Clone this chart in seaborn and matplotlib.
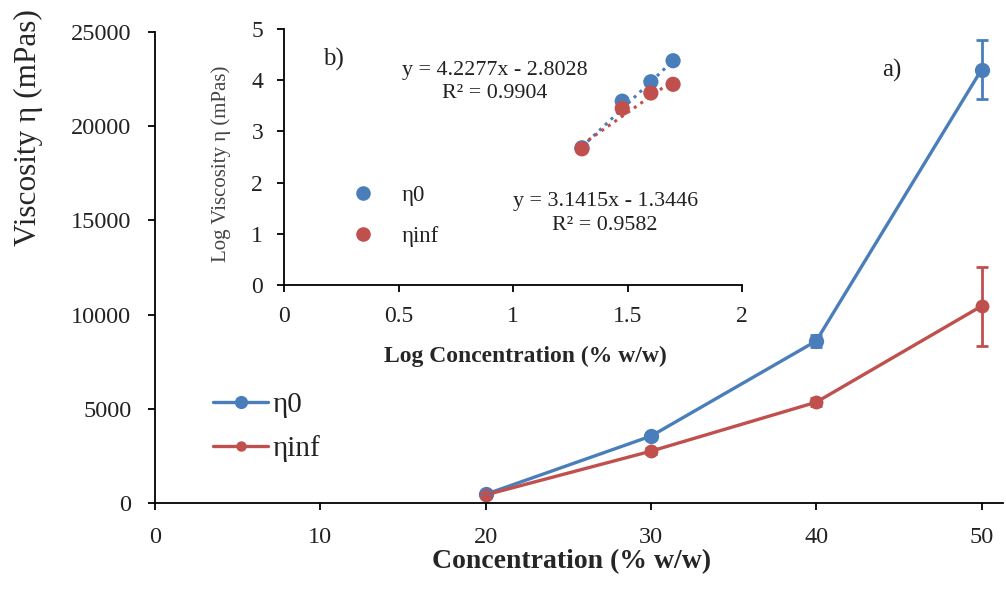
import matplotlib
matplotlib.use("Agg")
import matplotlib.pyplot as plt
import seaborn as sns
import pandas as pd
import numpy as np
from matplotlib.lines import Line2D

# Concentration series (% w/w) and viscosities (mPas)
concentration = [20, 30, 40, 50]
eta0 = [460, 3550, 8600, 23000]
eta0_err = [100, 150, 300, 1550]
etainf = [430, 2750, 5350, 10450]
etainf_err = [100, 150, 200, 2100]

# Log-log view
log_conc = [1.301, 1.477, 1.602, 1.699]
log_eta0 = [2.68, 3.59, 3.97, 4.38]
log_etainf = [2.66, 3.45, 3.75, 3.92]
fit_eta0 = (4.2277, -2.8028, 0.9904)
fit_etainf = (3.1415, -1.3446, 0.9582)

BLUE = "#4a7ebb"
RED = "#c0504d"
W, H = 1006, 590

sns.set_theme(style="white")
plt.rcParams["font.family"] = ["Liberation Serif", "DejaVu Serif"]
plt.rcParams["axes.edgecolor"] = "black"
plt.rcParams["axes.linewidth"] = 1.3
plt.rcParams["text.color"] = "#222222"

fig = plt.figure(figsize=(W / 100, H / 100), dpi=100)


def px_text(x, y, s, size, **kw):
    """Place text at pixel coordinates measured from the top-left corner."""
    fig.text(x / W, 1 - y / H, s, fontsize=size, ha="center", va="center", **kw)


# Main axes: viscosity against concentration
AX_L, AX_T, AX_B, AX_R = 155, 32, 503, 1003
ax = fig.add_axes([AX_L / W, 1 - AX_B / H, (AX_R - AX_L) / W, (AX_B - AX_T) / H])
ax_w, ax_h = AX_R - AX_L, AX_B - AX_T

for vals, col, ms in [(eta0, BLUE, 11), (etainf, RED, 10)]:
    sns.lineplot(x=concentration, y=vals, color=col, marker="o", markersize=ms,
                 markeredgewidth=0, linewidth=2.4, ax=ax)
ax.errorbar(concentration, eta0, yerr=eta0_err, fmt="none", ecolor=BLUE,
            elinewidth=2, capsize=4.5, capthick=2)
ax.errorbar(concentration, etainf, yerr=etainf_err, fmt="none", ecolor=RED,
            elinewidth=2, capsize=4.5, capthick=2)

ax.set_xlim(0, 51.3)
ax.set_ylim(0, 25000)
ax.set_xticks([0, 10, 20, 30, 40, 50])
ax.set_yticks([0, 5000, 10000, 15000, 20000, 25000])
for s in ["top", "right"]:
    ax.spines[s].set_visible(False)
ax.tick_params(axis="both", which="major", direction="out", length=5, width=1.3,
               labelsize=17.5, colors="black", labelcolor="#222222",
               bottom=True, left=True)
ax.tick_params(axis="x", pad=12)
ax.tick_params(axis="y", pad=12)
ax.set_xlabel("Concentration (% w/w)", fontsize=20, fontweight="bold")
ax.xaxis.set_label_coords((572 - AX_L) / ax_w, -(549 - AX_B) / ax_h)
ax.set_ylabel("Viscosity η (mPas)", fontsize=22.5)
ax.yaxis.set_label_coords(-(AX_L - 43) / ax_w, (AX_B - 128) / ax_h)
px_text(892, 70, "a)", 18)

# Main legend
handles = [
    Line2D([], [], color=BLUE, lw=2.4, marker="o", markersize=9.5, markeredgewidth=0),
    Line2D([], [], color=RED, lw=2.4, marker="o", markersize=7.5, markeredgewidth=0),
]
ax.legend(handles, ["η0", "ηinf"], loc="center left",
          bbox_to_anchor=((213 - AX_L) / ax_w, (AX_B - 427) / ax_h),
          borderaxespad=0, borderpad=0, frameon=False, fontsize=21,
          handlelength=1.9, handletextpad=0.15, labelspacing=0.6)

# Inset: log-log plot with linear trend lines
IN_L, IN_T, IN_B, IN_R = 284, 29, 285, 742
ins = fig.add_axes([IN_L / W, 1 - IN_B / H, (IN_R - IN_L) / W, (IN_B - IN_T) / H])
in_w, in_h = IN_R - IN_L, IN_B - IN_T
ldf = pd.DataFrame({
    "x": log_conc * 2,
    "y": log_eta0 + log_etainf,
    "series": ["η0"] * 4 + ["ηinf"] * 4,
})
xs = np.array([log_conc[0], log_conc[-1]])
for (m, b, _), col in [(fit_eta0, BLUE), (fit_etainf, RED)]:
    ins.plot(xs, m * xs + b, color=col, lw=2.2, ls=(0, (1, 1.6)), zorder=1)
sns.scatterplot(data=ldf, x="x", y="y", hue="series", palette=[BLUE, RED],
                s=120, linewidth=0, ax=ins, legend=False, zorder=3)
ins.set_xlim(0, 2)
ins.set_ylim(0, 5)
ins.set_xticks([0, 0.5, 1, 1.5, 2])
ins.set_xticklabels(["0", "0.5", "1", "1.5", "2"])
ins.set_yticks([0, 1, 2, 3, 4, 5])
for s in ["top", "right"]:
    ins.spines[s].set_visible(False)
ins.tick_params(axis="both", direction="out", length=5, width=1.3,
                labelsize=17, colors="black", labelcolor="#222222",
                bottom=True, left=True)
ins.tick_params(axis="x", pad=10)
ins.tick_params(axis="y", pad=10)
ins.set_xlabel("Log Concentration (% w/w)", fontsize=17, fontweight="bold")
ins.xaxis.set_label_coords((525 - IN_L) / in_w, -(346 - IN_B) / in_h)
ins.set_ylabel("Log Viscosity η (mPas)", fontsize=15, color="#444444")
ins.yaxis.set_label_coords(-(IN_L - 231) / in_w, (IN_B - 164) / in_h)

px_text(333, 59, "b)", 18)
px_text(495, 71, f"y = {fit_eta0[0]}x - {abs(fit_eta0[1])}", 15.8)
px_text(495, 93, f"R² = {fit_eta0[2]}", 15.8)
px_text(606, 202, f"y = {fit_etainf[0]}x - {abs(fit_etainf[1])}", 15.8)
px_text(605, 225, f"R² = {fit_etainf[2]}", 15.8)

ins_handles = [
    Line2D([], [], ls="none", marker="o", color=BLUE, markersize=10.5, markeredgewidth=0),
    Line2D([], [], ls="none", marker="o", color=RED, markersize=10.5, markeredgewidth=0),
]
ins.legend(ins_handles, ["η0", "ηinf"], loc="center left",
           bbox_to_anchor=((352 - IN_L) / in_w, (IN_B - 216) / in_h),
           borderaxespad=0, borderpad=0, frameon=False, fontsize=16.5,
           handlelength=1.0, handletextpad=1.15, labelspacing=0.85)

fig.savefig("out.png", dpi=100)
